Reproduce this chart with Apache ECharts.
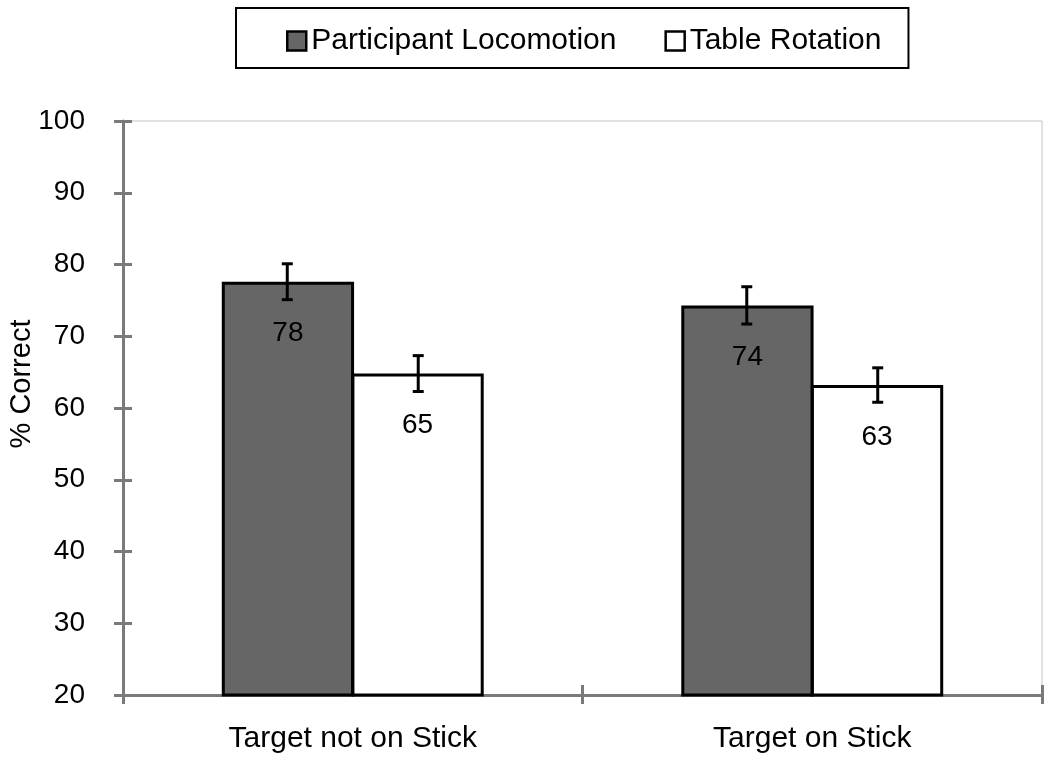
<!DOCTYPE html>
<html>
<head>
<meta charset="utf-8">
<script src="https://cdn.jsdelivr.net/npm/echarts@6/dist/echarts.min.js"></script>
<style>
html,body{margin:0;padding:0;background:#fff;}
#chart{width:1050px;height:761px;}
</style>
</head>
<body>
<div id="chart"></div>
<script>
const categories = ['Target not on Stick', 'Target on Stick'];
const seriesNames = ['Participant Locomotion', 'Table Rotation'];
const locomotion = [77.6, 74.3];
const rotation = [64.8, 63.2];
const locomotionErr = [2.5, 2.6];
const rotationErr = [2.5, 2.4];
const yTicks = [20, 30, 40, 50, 60, 70, 80, 90, 100];

const FONT = 'Liberation Sans, Arial, sans-serif';
const AXIS_GRAY = '#7a7a7a';
const BAR_FRAC = 0.285; // each bar's share of the category band

function errData(vals, errs) {
  return vals.map((v, i) => [i, v, errs[i]]);
}

function makeErrRender(side) {
  return function (params, api) {
    const bw = api.size([1, 0])[0];
    const off = side * bw * BAR_FRAC / 2;
    const v = api.value(1), e = api.value(2);
    const top = api.coord([api.value(0), v + e]);
    const bot = api.coord([api.value(0), v - e]);
    const x = top[0] + off;
    const cap = 5.5;
    const style = { stroke: '#000', lineWidth: 3 };
    return {
      type: 'group',
      children: [
        { type: 'line', shape: { x1: x, y1: top[1], x2: x, y2: bot[1] }, style: style },
        { type: 'line', shape: { x1: x - cap, y1: top[1], x2: x + cap, y2: top[1] }, style: style },
        { type: 'line', shape: { x1: x - cap, y1: bot[1], x2: x + cap, y2: bot[1] }, style: style }
      ]
    };
  };
}

const chart = echarts.init(document.getElementById('chart'));
const valueLabel = {
  show: true,
  position: 'insideTop',
  distance: 37,
  fontFamily: FONT,
  fontSize: 28,
  lineHeight: 30,
  color: '#000',
  formatter: p => String(Math.round(p.value))
};

chart.setOption({
  animation: false,
  backgroundColor: '#fff',
  textStyle: { fontFamily: FONT },
  legend: {
    data: seriesNames,
    left: 236,
    top: 8,
    padding: [17, 27, 11, 50],
    itemGap: 48,
    itemWidth: 19,
    itemHeight: 19,
    icon: 'rect',
    borderColor: '#000',
    borderWidth: 2,
    backgroundColor: '#fff',
    itemStyle: { borderWidth: 2.5 },
    textStyle: { fontFamily: FONT, fontSize: 30, color: '#000', lineHeight: 32 }
  },
  grid: {
    left: 123, right: 8, top: 121, bottom: 66,
    outerBoundsMode: 'none',
    containLabel: false,
    show: true, borderColor: '#c4c4c4', borderWidth: 1, backgroundColor: 'transparent'
  },
  xAxis: [
    {
      type: 'category',
      data: categories,
      position: 'bottom',
      axisLine: { show: true, lineStyle: { color: AXIS_GRAY, width: 3 } },
      axisTick: { show: true, inside: false, length: 9, lineStyle: { color: AXIS_GRAY, width: 3 } },
      axisLabel: { fontFamily: FONT, fontSize: 30, color: '#000', margin: 29 },
      splitLine: { show: false }
    },
    {
      type: 'category',
      data: categories,
      position: 'bottom',
      offset: 0,
      axisLine: { show: false },
      axisTick: { show: true, inside: true, length: 10, lineStyle: { color: AXIS_GRAY, width: 3 } },
      axisLabel: { show: false },
      splitLine: { show: false }
    }
  ],
  yAxis: [
    {
      type: 'value',
      min: yTicks[0],
      max: yTicks[yTicks.length - 1],
      interval: 10,
      position: 'left',
      name: '% Correct',
      nameLocation: 'middle',
      nameGap: 87,
      nameRotate: 90,
      nameMoveOverlap: false,
      nameTextStyle: { fontFamily: FONT, fontSize: 29, color: '#000', padding: [0, 0, 0, 48] },
      axisLine: { show: true, lineStyle: { color: AXIS_GRAY, width: 3 } },
      axisTick: { show: true, inside: false, length: 9, lineStyle: { color: AXIS_GRAY, width: 3 } },
      axisLabel: { fontFamily: FONT, fontSize: 28, color: '#000', margin: 38 },
      splitLine: { show: false }
    },
    {
      type: 'value',
      min: yTicks[0],
      max: yTicks[yTicks.length - 1],
      interval: 10,
      position: 'left',
      offset: 0,
      axisLine: { show: false },
      axisTick: { show: true, inside: true, length: 9, lineStyle: { color: AXIS_GRAY, width: 3 } },
      axisLabel: { show: false },
      splitLine: { show: false }
    }
  ],
  series: [
    {
      name: seriesNames[0],
      type: 'bar',
      data: locomotion,
      barGap: '-2%',
      barCategoryGap: '43%',
      itemStyle: { color: '#666666', borderColor: '#000', borderWidth: 3 },
      label: valueLabel,
      z: 2
    },
    {
      name: seriesNames[1],
      type: 'bar',
      data: rotation,
      barGap: '-2%',
      barCategoryGap: '43%',
      itemStyle: { color: '#ffffff', borderColor: '#000', borderWidth: 3 },
      label: valueLabel,
      z: 2
    },
    {
      name: 'errLoc',
      type: 'custom',
      renderItem: makeErrRender(-1),
      data: errData(locomotion, locomotionErr),
      encode: { x: 0, y: 1 },
      z: 5
    },
    {
      name: 'errRot',
      type: 'custom',
      renderItem: makeErrRender(1),
      data: errData(rotation, rotationErr),
      encode: { x: 0, y: 1 },
      z: 5
    }
  ]
});
</script>
</body>
</html>
